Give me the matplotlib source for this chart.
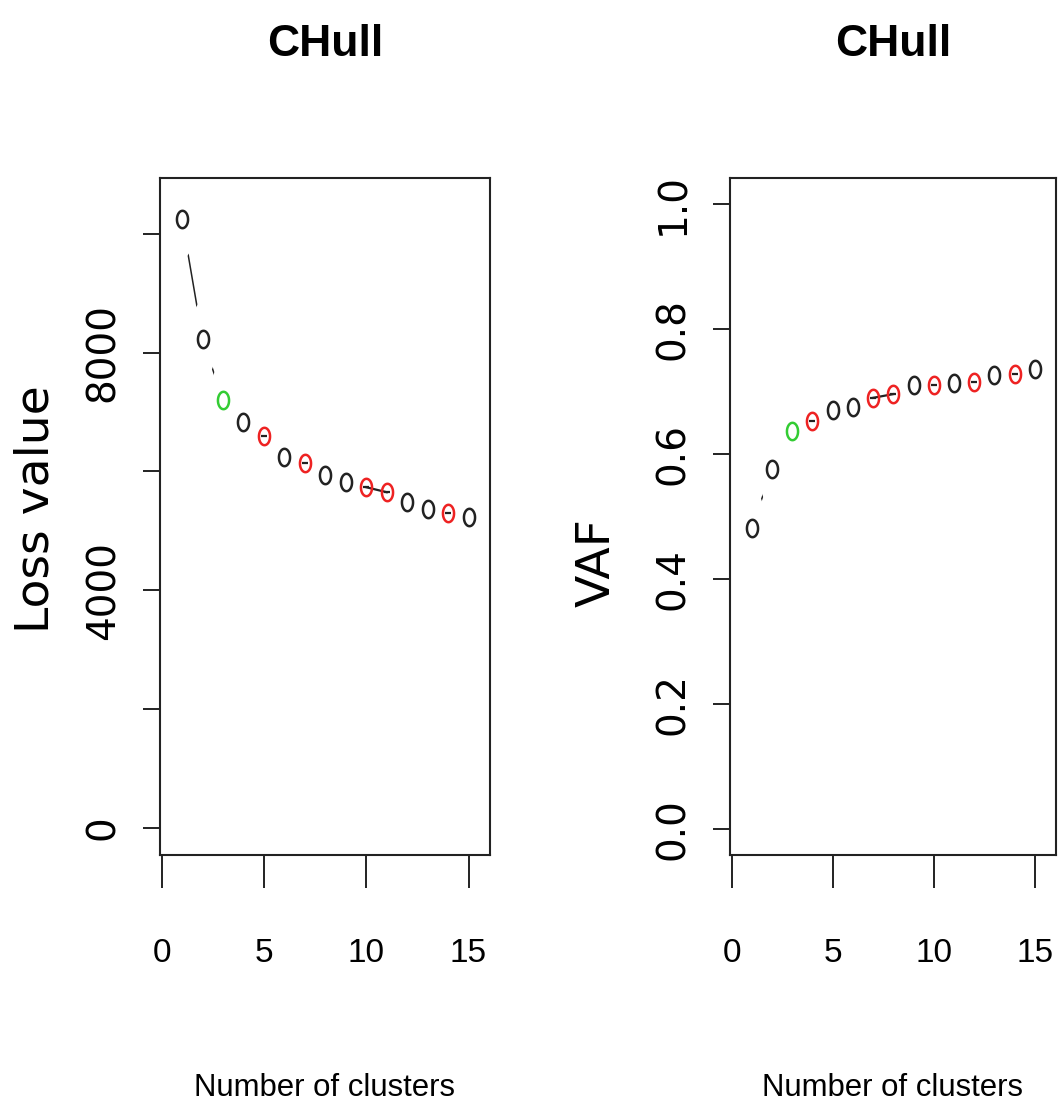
import numpy as np
import matplotlib

matplotlib.use("Agg")
import matplotlib.pyplot as plt
from matplotlib import font_manager
from matplotlib.path import Path

# data
clusters = [1, 2, 3, 4, 5, 6, 7, 8, 9, 10, 11, 12, 13, 14, 15]
loss = [10245, 8231, 7195, 6830, 6588, 6250, 6138, 5941, 5828, 5733, 5649, 5490, 5362, 5305, 5238]
vaf = [0.482, 0.576, 0.637, 0.653, 0.671, 0.675, 0.690, 0.696, 0.711, 0.710, 0.713, 0.715, 0.726, 0.728, 0.736]
loss_hull = [5, 7, 10, 11, 14]
vaf_hull = [4, 7, 8, 10, 12, 14]
best = 3

loss_ticks = [0, 2000, 4000, 6000, 8000, 10000]
loss_ticklabels = ["0", "", "4000", "", "8000", ""]
vaf_ticks = [0.0, 0.2, 0.4, 0.6, 0.8, 1.0]
vaf_ticklabels = ["0.0", "0.2", "0.4", "0.6", "0.8", "1.0"]
x_ticks = [0, 5, 10, 15]

names = {f.name for f in font_manager.fontManager.ttflist}
if "Liberation Sans Narrow" in names:
    NARROW, SC = ["Liberation Sans Narrow", "DejaVu Sans"], 1.0
else:
    NARROW, SC = ["Liberation Sans", "DejaVu Sans"], 0.8
WIDE = ["DejaVu Sans"]

# open ellipse marker (reference is stretched vertically)
t = np.linspace(0, 2 * np.pi, 60)
ellipse = Path(np.column_stack([0.64 * np.cos(t), np.sin(t)]), closed=True)
gap = Path(np.column_stack([0.34 * np.cos(t), np.sin(t)]), closed=True)

fig = plt.figure(figsize=(10.58, 11.15), dpi=100)
W, H = 1058, 1115


def panel(left_px, right_px, y, hull, ylim, yticks, yticklabels, ylabel, ylab_x, ylab_y):
    ax = fig.add_axes([left_px / W, (H - 855) / H, (right_px - left_px) / W, (855 - 178) / H])
    x = np.array(clusters)
    y = np.array(y)
    # type="b": line with gaps around the points
    ax.plot(x, y, color="#222222", lw=1.1, zorder=1)
    ax.plot(x, y, ls="none", marker=gap, ms=56, mfc="white", mec="none", zorder=2)
    cols = []
    for c in clusters:
        if c == best:
            cols.append("#33cc33")
        elif c in hull:
            cols.append("#ee2222")
        else:
            cols.append("#222222")
    for xi, yi, ci in zip(x, y, cols):
        ax.plot(xi, yi, ls="none", marker=ellipse, ms=12.5, mfc="none", mec=ci, mew=1.8, zorder=4)
    hx = np.array(hull)
    hy = y[hx - 1]
    for a, b in zip(hull[:-1], hull[1:]):
        if b == a + 1:
            ax.plot([a, b], [y[a - 1], y[b - 1]], color="#222222", lw=1.6, zorder=3)
    ax.plot(hx, hy, ls="none", marker="_", ms=4, mew=1.6, color="#222222", zorder=3)

    ax.set_xlim(-0.08, 16.05)
    ax.set_ylim(*ylim)
    ax.set_xticks(x_ticks)
    ax.set_xticklabels([str(v) for v in x_ticks], family=NARROW, fontsize=30 * SC)
    ax.set_yticks(yticks)
    ax.set_yticklabels(yticklabels, family=WIDE, fontsize=28, rotation=90, va="center")
    ax.tick_params(axis="x", length=23.8, width=1.4, pad=36, color="#222222")
    ax.tick_params(axis="y", length=12.2, width=1.4, pad=15, color="#222222")
    for s in ax.spines.values():
        s.set_linewidth(1.5)
        s.set_color("#222222")
    ax.set_xlabel("Number of clusters", family=NARROW, fontsize=28 * SC, va="center")
    ax.xaxis.set_label_coords(0.5, (855 - 1088) / 677)
    ax.set_ylabel(ylabel, family=WIDE, fontsize=34, va="center")
    ax.yaxis.set_label_coords(ylab_x, ylab_y)
    ax.set_title("CHull", family=NARROW, fontsize=40 * SC, fontweight="bold", va="center",
                 y=(855 - 44) / 677, pad=0)
    return ax


panel(160, 490, loss, loss_hull, (-460, 10940), loss_ticks, loss_ticklabels,
      "Loss value", (36 - 160) / 330, (855 - 509) / 677)
panel(730, 1056, vaf, vaf_hull, (-0.042, 1.042), vaf_ticks, vaf_ticklabels,
      "VAF", (597 - 730) / 326, (855 - 563) / 677)

fig.savefig("out.png", dpi=100)
